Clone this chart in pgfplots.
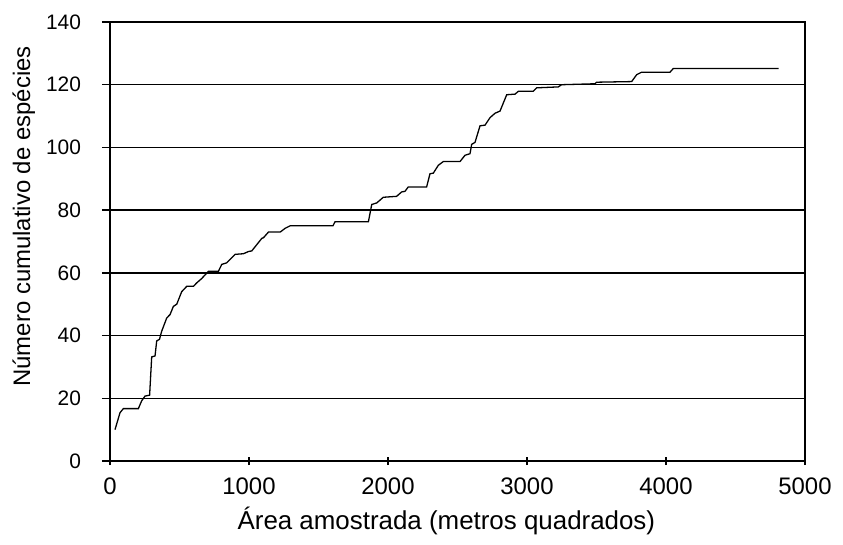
\documentclass[border=0pt]{standalone}
\usepackage{fontspec}
\setmainfont{Liberation Sans}
\usepackage{pgfplots}
\pgfplotsset{compat=1.18}
\begin{document}
\begin{tikzpicture}
\useasboundingbox (-55bp,-42bp) rectangle (366.5bp,230.5bp);
\begin{axis}[
    at={(0,0)}, anchor=south west,
    scale only axis,
    width=347.5bp, height=219.5bp,
    xmin=0, xmax=5000,
    ymin=0, ymax=140,
    xtick={0,1000,...,5000},
    ytick={0,20,...,140},
    ymajorgrids,
    grid style={black, line width=0.65pt},
    axis line style={black, line width=0.65pt},
    tick style={black, line width=0.65pt},
    major tick length=4bp,
    xtick align=center,
    ytick align=outside,
    xtick pos=bottom, ytick pos=left,
    /pgf/number format/assume math mode=true,
    /pgf/number format/set thousands separator={},
    xticklabel style={font=\fontsize{12}{14}\selectfont, yshift=-3bp},
    yticklabel style={font=\fontsize{10.5}{12}\selectfont, xshift=-7bp},
    xlabel={Área amostrada (metros quadrados)},
    ylabel={Número cumulativo de espécies},
    xlabel style={font=\fontsize{13}{15}\selectfont, at={(axis description cs:0.484,-0.137)}, anchor=center},
    ylabel style={font=\fontsize{12}{14}\selectfont, at={(axis description cs:-0.124,0.557)}, anchor=center},
]
\addplot[black, line width=0.65pt] coordinates {
    (36,10) (72,15.4) (96,16.7) (204,16.7) (228,19.2) (252,20.7) (285,21)
    (300,33.2) (324,33.5) (336,38.3) (356,38.8) (372,41.4) (408,45.6)
    (432,46.7) (456,49.3) (480,50) (516,54) (552,55.7) (600,55.7)
    (624,56.8) (660,58.2) (708,60.5) (780,60.5) (804,62.7) (840,63.2)
    (900,65.9) (960,66.1) (996,66.8) (1020,67) (1092,71) (1104,71.2)
    (1140,73) (1224,73) (1260,74.2) (1296,75) (1604,75) (1619,76.3)
    (1859,76.3) (1883,81.8) (1919,82.3) (1966,84.1) (2062,84.4)
    (2098,85.8) (2122,86) (2146,87.4) (2278,87.4) (2302,91.6) (2326,91.8)
    (2362,94.3) (2398,95.5) (2518,95.5) (2554,97.5) (2590,98) (2602,101)
    (2626,101.6) (2662,106.9) (2698,107.1) (2734,109.5) (2770,110.9)
    (2806,111.6) (2854,116.8) (2914,117) (2938,117.9) (3045,117.9)
    (3069,119) (3225,119.3) (3249,120) (3489,120.3) (3501,120.8)
    (3753,121) (3789,123.2) (3825,124) (4029,124) (4053,125.2) (4810,125.2)
};
\end{axis}
\end{tikzpicture}
\end{document}
